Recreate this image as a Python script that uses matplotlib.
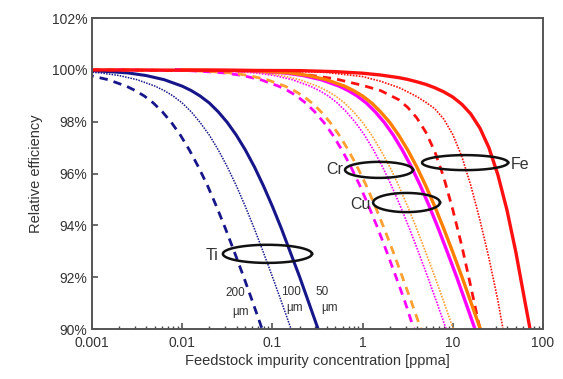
import numpy as np
import matplotlib
matplotlib.use('Agg')
import matplotlib.pyplot as plt
from matplotlib.ticker import LogLocator, NullFormatter

plt.rcParams['font.family'] = ['Liberation Sans', 'DejaVu Sans']

# relative efficiency [%] levels (Ti, Cu, Cr curves)
eff_levels = [100.0, 99.97, 99.93, 99.88, 99.78, 99.62, 99.37, 99.20, 98.99, 98.72, 98.38,
              97.97, 97.48, 96.91, 96.26, 95.53, 94.73, 93.87, 92.96, 92.02, 91.05, 90.0]

# feedstock impurity concentration [ppma] at those levels
ti50_c = [0.000158, 0.001, 0.00158, 0.00251, 0.00398, 0.00631, 0.01, 0.0126, 0.0158, 0.02, 0.0251,
          0.0316, 0.0398, 0.0501, 0.0631, 0.0794, 0.1, 0.126, 0.158, 0.2, 0.251, 0.321]
ti100_c = [0.0000792, 0.000501, 0.000794, 0.00126, 0.002, 0.00316, 0.00501, 0.00631, 0.00794, 0.01, 0.0126,
           0.0158, 0.02, 0.0251, 0.0316, 0.0398, 0.0501, 0.0631, 0.0794, 0.1, 0.126, 0.161]
ti200_c = [0.000038, 0.00024, 0.00038, 0.000603, 0.000955, 0.00151, 0.0024, 0.00302, 0.0038, 0.00479, 0.00603,
           0.00759, 0.00955, 0.012, 0.0151, 0.0191, 0.024, 0.0302, 0.038, 0.0479, 0.0603, 0.0769]
cu50_c = [0.0087, 0.055, 0.0871, 0.138, 0.219, 0.347, 0.55, 0.692, 0.871, 1.10, 1.38,
          1.74, 2.19, 2.75, 3.47, 4.37, 5.50, 6.92, 8.71, 11.0, 13.8, 17.6]
cu100_c = [0.00417, 0.0263, 0.0417, 0.0661, 0.105, 0.166, 0.263, 0.331, 0.417, 0.525, 0.661,
           0.832, 1.05, 1.32, 1.66, 2.09, 2.63, 3.31, 4.17, 5.25, 6.61, 8.43]
cu200_c = [0.00186, 0.0117, 0.0186, 0.0295, 0.0468, 0.0741, 0.117, 0.148, 0.186, 0.234, 0.295,
           0.372, 0.468, 0.589, 0.741, 0.933, 1.17, 1.48, 1.86, 2.34, 2.95, 3.70]
cr50_c = [0.01, 0.0631, 0.1, 0.158, 0.251, 0.398, 0.631, 0.794, 1.0, 1.26, 1.58,
          2.0, 2.51, 3.16, 3.98, 5.01, 6.31, 7.94, 10.0, 12.6, 15.8, 20.2]
cr100_c = [0.00501, 0.0316, 0.0501, 0.0794, 0.126, 0.2, 0.316, 0.398, 0.501, 0.631, 0.794,
           1.0, 1.26, 1.58, 2.0, 2.51, 3.16, 3.98, 5.01, 6.31, 7.94, 10.1]
cr200_c = [0.00219, 0.0138, 0.0219, 0.0347, 0.055, 0.0871, 0.138, 0.174, 0.219, 0.275, 0.347,
           0.437, 0.55, 0.692, 0.871, 1.10, 1.38, 1.74, 2.19, 2.75, 3.47, 4.43]

# Fe curves are steeper, read separately
fe50_c = [0.001, 0.2, 0.501, 1.0, 1.58, 2.51, 3.16, 3.98, 5.01, 6.31, 7.94,
          10.0, 12.6, 15.8, 20.0, 25.1, 31.6, 39.8, 50.1, 63.1, 71.8]
fe50_e = [100.0, 99.97, 99.93, 99.87, 99.80, 99.70, 99.63, 99.54, 99.44, 99.31, 99.15,
          98.95, 98.67, 98.30, 97.75, 97.0, 95.95, 94.6, 92.95, 91.05, 90.0]
fe100_c = [0.001, 0.1, 0.398, 1.0, 1.58, 2.51, 3.16, 3.98, 5.01, 6.31, 7.94,
           10.0, 12.6, 15.8, 20.0, 25.1, 31.6, 36.0]
fe100_e = [100.0, 99.97, 99.90, 99.74, 99.56, 99.32, 99.15, 98.97, 98.75, 98.5, 98.1,
           97.5, 96.65, 95.55, 94.2, 92.75, 91.1, 90.0]
fe200_c = [0.001, 0.0631, 0.2, 0.501, 1.0, 1.58, 2.51, 3.16, 3.98, 5.01, 6.31,
           7.94, 10.0, 12.6, 15.8, 20.0]
fe200_e = [100.0, 99.95, 99.85, 99.65, 99.40, 99.2, 98.85, 98.55, 98.15, 97.6, 96.85,
           95.85, 94.6, 93.2, 91.65, 90.0]

# ellipses: centre (log10 conc, eff), half width in decades, half height in %
ellipses = {'Ti': (-1.055, 92.9, 0.494, 0.35),
            'Cr': (0.182, 96.14, 0.377, 0.31),
            'Cu': (0.487, 94.88, 0.371, 0.37),
            'Fe': (1.136, 96.42, 0.477, 0.29)}

navy = '#16168a'
magenta = '#ff00ff'
orange = '#ff7f00'
orange_light = '#ffa030'
red = '#ff1010'
dash = (0, (3, 2.2))
dot = (0, (1, 0.8))

fig = plt.figure(figsize=(5.63, 3.79), dpi=100)
ax = fig.add_axes([0.1634, 0.1319, 0.8011, 0.8206])

# dashed / dotted first, solids on top
ax.plot(ti200_c, eff_levels, color=navy, lw=2.0, ls=dash)
ax.plot(ti100_c, eff_levels, color=navy, lw=1.1, ls=dot)
ax.plot(ti50_c, eff_levels, color=navy, lw=2.2)

ax.plot(cu200_c, eff_levels, color=magenta, lw=2.0, ls=dash)
ax.plot(cr200_c, eff_levels, color=orange_light, lw=2.0, ls=dash)
ax.plot(cu100_c, eff_levels, color=magenta, lw=1.2, ls=dot)
ax.plot(cr100_c, eff_levels, color=orange_light, lw=1.2, ls=dot)
ax.plot(fe200_c, fe200_e, color=red, lw=2.0, ls=dash)
ax.plot(fe100_c, fe100_e, color=red, lw=1.2, ls=dot)
ax.plot(cu50_c, eff_levels, color=magenta, lw=2.4)
ax.plot(cr50_c, eff_levels, color=orange, lw=2.4)
ax.plot(fe50_c, fe50_e, color=red, lw=2.4)

t = np.linspace(0, 2 * np.pi, 200)
for name, (lx, ye, hw, hh) in ellipses.items():
    ax.plot(10 ** (lx + hw * np.cos(t)), ye + hh * np.sin(t), color='#111111', lw=1.8)

lab = dict(fontsize=11.5, color='#333333', va='center')
ax.text(10 ** (-1.60), 92.85, 'Ti', ha='right', **lab)
ax.text(10 ** (-0.22), 96.14, 'Cr', ha='right', **lab)
ax.text(10 ** (0.09), 94.82, 'Cu', ha='right', **lab)
ax.text(10 ** (1.64), 96.34, 'Fe', ha='left', **lab)

small = dict(fontsize=8.5, color='#333333', ha='center', va='center')
ax.text(0.0385, 91.39, '200', **small)
ax.text(0.0449, 90.66, 'µm', **small)
ax.text(0.161, 91.43, '100', **small)
ax.text(0.178, 90.81, 'µm', **small)
ax.text(0.355, 91.43, '50', **small)
ax.text(0.435, 90.81, 'µm', **small)

ax.set_xscale('log')
ax.set_xlim(0.001, 100)
ax.set_ylim(90, 102)
ax.set_xticks([0.001, 0.01, 0.1, 1, 10, 100])
ax.set_xticklabels(['0.001', '0.01', '0.1', '1', '10', '100'])
ax.xaxis.set_minor_locator(LogLocator(base=10, subs=np.arange(2, 10), numticks=20))
ax.xaxis.set_minor_formatter(NullFormatter())
yt = [90, 92, 94, 96, 98, 100, 102]
ax.set_yticks(yt)
ax.set_yticklabels(['%d%%' % v for v in yt])

ax.tick_params(axis='both', which='major', direction='in', length=4, width=1.1,
               labelsize=10, labelcolor='#333333', color='#444444')
ax.tick_params(axis='x', which='minor', direction='in', length=2.5, width=1.0, color='#444444')
ax.tick_params(axis='x', which='major', pad=5)
for s in ax.spines.values():
    s.set_color('#555555')
    s.set_linewidth(1.4)

ax.set_xlabel('Feedstock impurity concentration [ppma]', fontsize=10.5, color='#333333', labelpad=3)
ax.set_ylabel('Relative efficiency', fontsize=10.5, color='#333333', labelpad=6)

fig.savefig('out.png', dpi=100)
